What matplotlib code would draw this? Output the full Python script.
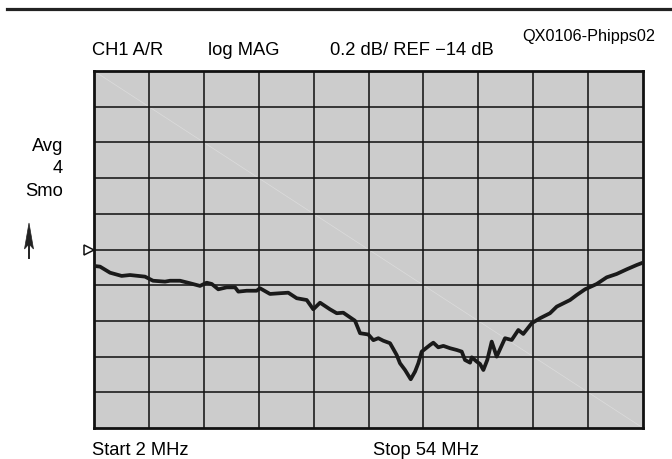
import matplotlib
matplotlib.use("Agg")
import matplotlib.pyplot as plt
from matplotlib.lines import Line2D
from matplotlib.patches import Polygon

# ---- data ----
freq_mhz = [2.00, 2.57, 3.52, 4.62, 5.41, 6.83, 7.59, 8.73, 9.20, 10.15, 11.09, 12.04,
            12.67, 13.15, 13.77, 14.57, 15.36, 15.67, 16.46, 17.41, 17.72, 18.67, 19.62,
            20.40, 21.20, 22.15, 22.77, 23.41, 24.35, 24.99, 25.61, 26.25, 26.72, 27.20,
            27.98, 28.46, 28.93, 29.40, 30.04, 30.67, 30.98, 31.46, 32.00, 32.41, 32.72,
            33.04, 33.83, 34.14, 34.61, 35.09, 35.72, 36.36, 36.83, 37.14, 37.62, 37.78,
            38.25, 38.56, 38.88, 39.25, 39.67, 40.14, 40.93, 41.56, 42.19, 42.66, 43.46,
            44.25, 45.19, 45.83, 47.09, 47.72, 48.51, 49.62, 50.56, 51.51, 52.46, 53.40,
            53.97]
mag_db = [-14.092, -14.096, -14.130, -14.148, -14.143, -14.152, -14.175, -14.180, -14.175,
          -14.175, -14.189, -14.204, -14.186, -14.193, -14.223, -14.212, -14.212, -14.236,
          -14.231, -14.231, -14.217, -14.249, -14.245, -14.242, -14.273, -14.283, -14.335,
          -14.298, -14.335, -14.357, -14.354, -14.380, -14.399, -14.469, -14.476, -14.508,
          -14.497, -14.511, -14.525, -14.591, -14.637, -14.675, -14.727, -14.684, -14.637,
          -14.572, -14.535, -14.522, -14.548, -14.540, -14.553, -14.563, -14.572, -14.619,
          -14.634, -14.604, -14.628, -14.641, -14.675, -14.619, -14.516, -14.600, -14.497,
          -14.507, -14.451, -14.473, -14.413, -14.385, -14.357, -14.320, -14.283, -14.255,
          -14.223, -14.193, -14.156, -14.137, -14.111, -14.087, -14.074]
start_mhz = 2
stop_mhz = 54
ref_db = -14.0
scale_db = 0.2
n_div = 10

header_texts = ["CH1 A/R", "log MAG", "0.2 dB/ REF \u221214 dB"]
figure_id = "QX0106-Phipps02"
side_texts = ["Avg", "4", "Smo"]
start_label = "Start 2 MHz"
stop_label = "Stop 54 MHz"

# ---- figure ----
W, H = 672, 459
fig = plt.figure(figsize=(W / 100, H / 100), dpi=100)
plt.rcParams['font.family'] = ['Liberation Sans', 'DejaVu Sans']

def fx(px):
    return px / W

def fy(py):
    return 1 - py / H

L, R, T, B = 94, 643, 71, 428
ax = fig.add_axes([fx(L), fy(B), fx(R) - fx(L), fy(T) - fy(B)])
ax.set_facecolor('#cccccc')
ax.set_xlim(start_mhz, stop_mhz)
ax.set_ylim(ref_db - scale_db * n_div / 2, ref_db + scale_db * n_div / 2)
step_x = (stop_mhz - start_mhz) / n_div
for i in range(1, n_div):
    ax.axvline(start_mhz + i * step_x, color='#151515', lw=1.15, zorder=1)
    ax.axhline(ref_db - scale_db * n_div / 2 + i * scale_db, color='#151515', lw=1.15, zorder=1)
# faint diagonal artifact
ax.plot([0, 1], [1, 0], transform=ax.transAxes, color='#dcdcdc', lw=0.5, zorder=0.5)
ax.set_xticks([])
ax.set_yticks([])
for s in ax.spines.values():
    s.set_linewidth(2.0)
    s.set_color('#111111')

ax.plot(freq_mhz, mag_db, color='#1a1a1a', lw=2.7, solid_joinstyle='round', zorder=3)

# reference marker
ax.plot([-0.009], [0.5], transform=ax.transAxes, marker='>', ms=7.5,
        mfc='white', mec='#111111', mew=1.1, clip_on=False, linestyle='none')

# top rule
fig.add_artist(Line2D([fx(7), 1.0], [fy(8.5), fy(8.5)], color='#222222', lw=2.3))

# header texts
fs = 13.2
fig.text(fx(92), fy(55), header_texts[0], fontsize=fs, va='baseline', ha='left')
fig.text(fx(208), fy(55), header_texts[1], fontsize=fs, va='baseline', ha='left')
fig.text(fx(330), fy(55), header_texts[2], fontsize=fs, va='baseline', ha='left')
fig.text(fx(655), fy(41), figure_id, fontsize=11.7, va='baseline', ha='right')

# side texts
for t, yb in zip(side_texts, [151, 173, 196]):
    fig.text(fx(63), fy(yb), t, fontsize=fs, va='baseline', ha='right')

# arrow
fig.add_artist(Line2D([fx(29), fx(29)], [fy(258), fy(242)], color='#222222', lw=1.4))
fig.add_artist(Polygon([(fx(29), fy(223)), (fx(33.5), fy(249)), (fx(29), fy(244)),
                        (fx(24.5), fy(249))], closed=True, transform=fig.transFigure,
                       facecolor='#222222', edgecolor='#222222', lw=0.5))

fig.text(fx(92), fy(455), start_label, fontsize=fs, va='baseline', ha='left')
fig.text(fx(373), fy(455), stop_label, fontsize=fs, va='baseline', ha='left')

fig.savefig('out.png', dpi=100)
